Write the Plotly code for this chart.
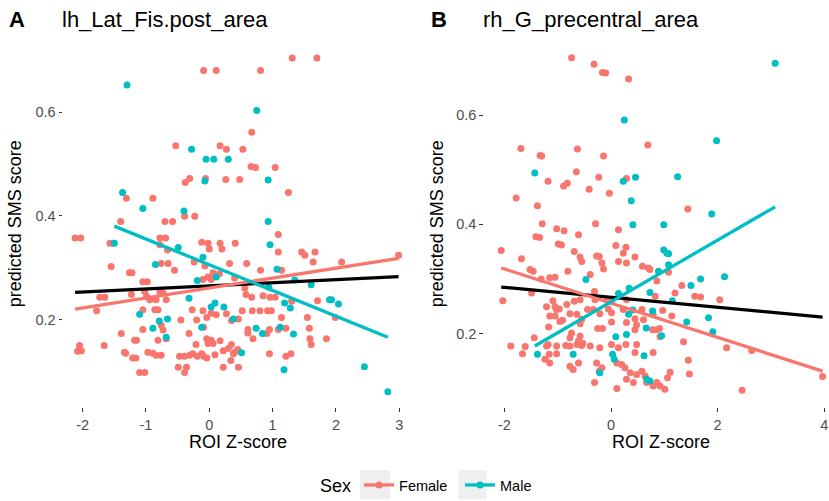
import plotly.graph_objects as go

FEMALE = "#F8766D"
MALE = "#00BFC4"
FONT = "Liberation Sans, Arial, Helvetica, sans-serif"

# ---------------- Panel A: lh_Lat_Fis.post_area ----------------
a_female_x = [-0.09, 0.11, -0.53, 0.17, 0.27, -0.38, -0.31, -0.06, 0.26, 0.48,
              -1.31, -0.89, -0.39, -0.23, -1.40, -0.70, -0.58, -2.12, -2.03, -0.78,
              -0.69, 1.31, 1.70, 0.81, 0.67, 0.53, 0.66, 0.73, 1.04, 1.25,
              1.09, -1.57, -1.52, -0.78, -0.66, -0.12, -0.02, 0.17, 0.41, 0.00,
              0.20, -0.24, -1.55, -0.76, -0.65, -0.55, -0.07, 0.06, -0.02, 0.16,
              -0.10, 0.03, 0.32, 0.40, -1.26, -1.22, -1.05, -0.98, -1.73, -1.65,
              -1.78, -1.23, -1.02, -0.99, -0.78, -0.73, -0.94, -0.84, -0.68, -0.86,
              -0.81, -1.05, -0.27, -0.10, 0.03, -0.04, 0.11, 0.27, 0.46, -0.20,
              -0.76, -0.73, -0.45, -0.09, -1.05, -1.39, -0.32, -0.68, -0.81, -1.18,
              -1.15, -0.04, 0.03, 0.06, -0.02, 0.17, 0.35, 0.45, -0.21, -2.05,
              -2.02, -2.08, -1.66, -1.34, -1.32, -0.97, -0.89, -0.84, -0.76, -1.21,
              -1.16, -0.47, -0.39, -0.31, -0.26, -0.19, -0.12, -0.09, -0.04, 0.09,
              0.22, 0.30, 0.38, 0.40, 0.22, 0.34, 0.46, -0.49, -0.36, -0.39,
              -1.10, -1.02, 1.09, 1.46, 1.51, 1.67, 1.64, 2.09, 2.99, 0.59,
              0.81, 1.14, 0.56, 0.58, 0.67, 0.85, 0.96, 1.04, 1.30, 1.71,
              1.99, 0.52, 0.68, 0.80, 0.92, 0.98, 0.35, 1.14, 1.55, 0.61,
              0.61, 0.91, 0.95, 1.09, 1.21, 1.58, 1.59, 1.61, 1.85, 0.69,
              0.95, 1.21, 1.29]
a_female_y = [0.680, 0.680, 0.535, 0.535, 0.528, 0.464, 0.472, 0.472, 0.470, 0.470,
              0.434, 0.434, 0.399, 0.399, 0.389, 0.389, 0.389, 0.357, 0.357, 0.357,
              0.357, 0.704, 0.704, 0.680, 0.561, 0.528, 0.495, 0.493, 0.493, 0.445,
              0.364, 0.347, 0.347, 0.344, 0.334, 0.349, 0.347, 0.347, 0.347, 0.336,
              0.336, 0.311, 0.302, 0.308, 0.308, 0.295, 0.303, 0.290, 0.282, 0.288,
              0.277, 0.277, 0.308, 0.280, 0.290, 0.290, 0.273, 0.273, 0.243, 0.243,
              0.217, 0.248, 0.254, 0.245, 0.254, 0.251, 0.238, 0.238, 0.238, 0.219,
              0.219, 0.219, 0.219, 0.217, 0.212, 0.204, 0.209, 0.211, 0.201, 0.199,
              0.189, 0.180, 0.199, 0.185, 0.181, 0.173, 0.173, 0.163, 0.160, 0.160,
              0.160, 0.163, 0.160, 0.154, 0.154, 0.159, 0.152, 0.142, 0.152, 0.150,
              0.140, 0.139, 0.150, 0.137, 0.135, 0.137, 0.135, 0.131, 0.131, 0.126,
              0.126, 0.129, 0.129, 0.131, 0.134, 0.129, 0.134, 0.129, 0.126, 0.132,
              0.140, 0.144, 0.134, 0.137, 0.108, 0.121, 0.108, 0.108, 0.108, 0.098,
              0.098, 0.098, 0.330, 0.330, 0.324, 0.330, 0.311, 0.311, 0.324, 0.308,
              0.295, 0.295, 0.261, 0.248, 0.243, 0.246, 0.243, 0.243, 0.235, 0.236,
              0.204, 0.217, 0.217, 0.217, 0.217, 0.217, 0.198, 0.204, 0.204, 0.181,
              0.174, 0.173, 0.181, 0.181, 0.183, 0.183, 0.163, 0.152, 0.163, 0.163,
              0.134, 0.129, 0.134]
a_male_x = [-1.30, -0.28, -0.05, 0.07, 0.30, -0.07, -1.37, -1.05, -0.40, 0.75,
            0.93, 0.93, -1.50, -0.49, -0.10, -0.85, 0.11, -0.19, -0.32, -1.10,
            0.09, 0.23, 0.03, 0.38, -0.79, -0.66, -0.89, -0.12, -0.68, 0.96,
            1.07, 1.35, 1.61, 0.94, 1.19, 1.28, 1.90, 1.93, 2.04, 0.74,
            0.84, 1.12, 1.33, 0.51, 1.18, 2.45, 2.82]
a_male_y = [0.652, 0.528, 0.509, 0.509, 0.509, 0.467, 0.445, 0.414, 0.409, 0.603,
            0.469, 0.389, 0.347, 0.339, 0.320, 0.306, 0.282, 0.275, 0.241, 0.210,
            0.232, 0.224, 0.224, 0.201, 0.197, 0.201, 0.183, 0.185, 0.166, 0.344,
            0.297, 0.276, 0.267, 0.262, 0.232, 0.222, 0.238, 0.238, 0.230, 0.183,
            0.173, 0.185, 0.172, 0.136, 0.103, 0.109, 0.061]
# linear fits (end points)
a_fit_all_x = [-2.12, 2.99]
a_fit_all_y = [0.2524, 0.2825]
a_fit_female_x = [-2.12, 2.99]
a_fit_female_y = [0.2202, 0.318]
a_fit_male_x = [-1.50, 2.82]
a_fit_male_y = [0.380, 0.1658]

# ---------------- Panel B: rh_G_precentral_area ----------------
b_female_x = [-0.74, -0.32, -0.16, -0.10, 0.33, -1.69, -1.33, -1.30, -0.63, -0.14,
              0.69, -0.65, -1.18, -0.89, -0.82, -0.23, 0.29, -0.41, -0.03, -1.78,
              -1.38, -1.29, -1.02, -0.88, -0.61, -0.29, 0.14, -1.41, -1.34, 1.44,
              -0.99, -0.93, -2.06, -1.68, -0.69, -0.58, -0.55, -0.27, -0.22, 0.09,
              0.28, 0.23, 0.45, 0.14, 0.29, -0.17, -0.14, 0.59, 0.70, -1.52,
              -1.46, -0.81, -1.31, -1.15, -1.05, -0.39, -2.03, -1.49, -1.09, -1.21,
              -0.97, -1.02, -1.05, -0.83, -0.69, -0.58, -0.31, -0.30, -0.08, 0.01,
              0.29, -0.44, -0.33, -0.05, -1.15, -1.05, -0.91, -0.77, -0.64, -0.55,
              -0.58, -0.21, 0.01, 0.23, 0.58, 0.45, 0.61, 0.79, -1.17, -0.96,
              -0.25, -0.16, 0.01, 0.29, 0.48, 0.45, 0.86, -0.74, -0.77, -0.58,
              -0.61, -0.53, -1.44, -1.02, -0.85, -0.77, -0.64, -1.18, -1.88, -1.61,
              -1.66, -1.21, -1.16, -1.02, -0.55, -0.39, -0.21, 0.01, 0.14, 0.28,
              0.48, 0.45, 0.79, -1.24, -1.15, -0.77, -0.71, -0.61, -0.27, -0.17,
              -0.22, 0.11, 0.20, 0.26, 0.36, 0.48, 0.58, 0.64, 0.29, 0.42,
              0.67, -0.31, 0.11, 0.79, 0.73, 1.08, 0.86, 1.33, 1.20, 1.57,
              1.68, 2.04, 0.83, 0.97, 1.14, 0.78, 0.91, 0.92, 1.36, 2.17,
              2.64, 1.45, 1.47, 1.11, 1.06, 3.97, 0.86, 0.92, 1.01, 2.46]
b_female_y = [0.705, 0.693, 0.678, 0.677, 0.666, 0.539, 0.526, 0.525, 0.538, 0.525,
              0.545, 0.496, 0.479, 0.470, 0.475, 0.486, 0.484, 0.464, 0.457, 0.448,
              0.434, 0.401, 0.392, 0.388, 0.381, 0.401, 0.390, 0.377, 0.376, 0.428,
              0.364, 0.362, 0.352, 0.337, 0.350, 0.340, 0.332, 0.342, 0.341, 0.361,
              0.358, 0.347, 0.340, 0.332, 0.329, 0.329, 0.318, 0.323, 0.320, 0.317,
              0.314, 0.314, 0.300, 0.302, 0.303, 0.308, 0.260, 0.274, 0.260, 0.249,
              0.245, 0.244, 0.249, 0.253, 0.259, 0.262, 0.277, 0.262, 0.262, 0.259,
              0.262, 0.244, 0.244, 0.245, 0.232, 0.232, 0.224, 0.236, 0.235, 0.226,
              0.218, 0.236, 0.238, 0.244, 0.244, 0.227, 0.225, 0.235, 0.212, 0.222,
              0.209, 0.209, 0.221, 0.220, 0.216, 0.207, 0.207, 0.201, 0.192, 0.195,
              0.186, 0.182, 0.192, 0.177, 0.178, 0.177, 0.180, 0.180, 0.177, 0.176,
              0.163, 0.177, 0.162, 0.163, 0.178, 0.177, 0.174, 0.180, 0.174, 0.180,
              0.180, 0.165, 0.165, 0.153, 0.146, 0.140, 0.134, 0.146, 0.146, 0.137,
              0.131, 0.146, 0.143, 0.137, 0.128, 0.125, 0.131, 0.122, 0.116, 0.110,
              0.110, 0.110, 0.099, 0.104, 0.317, 0.312, 0.296, 0.288, 0.274, 0.268,
              0.267, 0.262, 0.268, 0.242, 0.232, 0.207, 0.209, 0.194, 0.185, 0.174,
              0.169, 0.151, 0.126, 0.129, 0.119, 0.121, 0.110, 0.104, 0.098, 0.096]
b_male_x = [0.25, -1.43, 0.23, 0.46, 0.38, 0.41, 3.08, 1.98, 1.25, 1.89,
            0.99, -0.47, 0.14, 0.34, 0.73, 0.33, 0.41, 0.78, 0.66, 0.29,
            0.09, -1.38, -0.71, 0.03, 0.06, 0.62, -0.21, 0.67, 0.99, 1.05,
            1.08, 1.08, 0.89, 1.50, 1.68, 2.13, 1.15, 1.42, 1.83, 1.91,
            0.95, 0.73]
b_male_y = [0.591, 0.494, 0.479, 0.486, 0.443, 0.399, 0.695, 0.553, 0.487, 0.419,
            0.399, 0.299, 0.273, 0.283, 0.275, 0.235, 0.243, 0.241, 0.210, 0.198,
            0.194, 0.162, 0.162, 0.162, 0.153, 0.159, 0.128, 0.116, 0.353, 0.347,
            0.346, 0.326, 0.314, 0.288, 0.300, 0.304, 0.260, 0.221, 0.229, 0.203,
            0.196, 0.113]
b_fit_all_x = [-2.06, 3.97]
b_fit_all_y = [0.285, 0.230]
b_fit_female_x = [-2.06, 3.97]
b_fit_female_y = [0.320, 0.131]
b_fit_male_x = [-1.43, 3.08]
b_fit_male_y = [0.177, 0.432]

x_ticks_a = [-2, -1, 0, 1, 2, 3]
x_ticks_b = [-2, 0, 2, 4]
y_ticks = [0.2, 0.4, 0.6]
y_tick_text = ["0.2", "0.4", "0.6"]

W, H = 829, 501


def px(x):
    return x / W


def py(y):
    return 1 - y / H


fig = go.Figure()

MS = 7
LW = 3.3

panels = [
    ("x", "y", a_female_x, a_female_y, a_male_x, a_male_y,
     a_fit_all_x, a_fit_all_y, a_fit_female_x, a_fit_female_y, a_fit_male_x, a_fit_male_y),
    ("x2", "y2", b_female_x, b_female_y, b_male_x, b_male_y,
     b_fit_all_x, b_fit_all_y, b_fit_female_x, b_fit_female_y, b_fit_male_x, b_fit_male_y),
]
for (xa, ya, fx, fy, mx, my, ax_, ay_, ffx, ffy, fmx, fmy) in panels:
    fig.add_trace(go.Scatter(x=fx, y=fy, xaxis=xa, yaxis=ya, mode="markers",
                             marker=dict(color=FEMALE, size=MS), showlegend=False))
    fig.add_trace(go.Scatter(x=mx, y=my, xaxis=xa, yaxis=ya, mode="markers",
                             marker=dict(color=MALE, size=MS), showlegend=False))
    fig.add_trace(go.Scatter(x=ax_, y=ay_, xaxis=xa, yaxis=ya, mode="lines",
                             line=dict(color="black", width=LW), showlegend=False))
    fig.add_trace(go.Scatter(x=ffx, y=ffy, xaxis=xa, yaxis=ya, mode="lines",
                             line=dict(color=FEMALE, width=LW), showlegend=False))
    fig.add_trace(go.Scatter(x=fmx, y=fmy, xaxis=xa, yaxis=ya, mode="lines",
                             line=dict(color=MALE, width=LW), showlegend=False))

# legend entries
fig.add_trace(go.Scatter(x=[None], y=[None], mode="lines+markers", name="Female",
                         line=dict(color=FEMALE, width=LW), marker=dict(color=FEMALE, size=MS)))
fig.add_trace(go.Scatter(x=[None], y=[None], mode="lines+markers", name="Male",
                         line=dict(color=MALE, width=LW), marker=dict(color=MALE, size=MS)))

ydom = [py(407.4), py(41.0)]
axis_common = dict(showgrid=False, zeroline=False, showline=False, ticks="outside",
                   ticklen=3.7, tickwidth=1.1, tickcolor="#333333", automargin=False,
                   tickfont=dict(family=FONT, size=14.5, color="#4D4D4D"))

fig.update_layout(
    width=W, height=H,
    margin=dict(l=0, r=0, t=0, b=0, autoexpand=False),
    paper_bgcolor="white", plot_bgcolor="white",
    font=dict(family=FONT, color="black"),
    xaxis=dict(domain=[px(63.3), px(414.8)], range=[-2.306, 3.246],
               tickmode="array", tickvals=x_ticks_a, ticktext=[str(v) for v in x_ticks_a],
               anchor="y", **axis_common),
    yaxis=dict(domain=ydom, range=[0.0306, 0.7369], tickmode="array",
               tickvals=y_ticks, ticktext=y_tick_text, anchor="x", **axis_common),
    xaxis2=dict(domain=[px(484.0), 1.0], range=[-2.383, 4.09],
                tickmode="array", tickvals=x_ticks_b, ticktext=[str(v) for v in x_ticks_b],
                anchor="y2", **axis_common),
    yaxis2=dict(domain=ydom, range=[0.0646, 0.7357], tickmode="array",
                tickvals=y_ticks, ticktext=y_tick_text, anchor="x2", **axis_common),
    legend=dict(orientation="h", x=px(318), xanchor="left", y=py(486), yanchor="middle",
                title=dict(text="Sex", side="left", font=dict(family=FONT, size=18, color="black")),
                font=dict(family=FONT, size=14.5, color="black"),
                bgcolor="rgba(0,0,0,0)", itemwidth=30, traceorder="normal",
                entrywidthmode="pixels", entrywidth=56),
    showlegend=True,
)

# grey legend key backgrounds
for (x0, x1) in [(360, 390), (458.3, 486.7)]:
    fig.add_shape(type="rect", xref="paper", yref="paper",
                  x0=px(x0), x1=px(x1), y0=py(499.3), y1=py(470),
                  fillcolor="#EFEFEF", line=dict(width=0), layer="below")

ann = []
ann.append(dict(text="<b>A</b>", x=px(16.7), y=py(20), xanchor="center", yanchor="middle",
                font=dict(family=FONT, size=22, color="black")))
ann.append(dict(text="lh_Lat_Fis.post_area", x=px(59.5), y=py(20), xanchor="left",
                yanchor="middle", font=dict(family=FONT, size=22, color="black")))
ann.append(dict(text="<b>B</b>", x=px(438.5), y=py(20), xanchor="center", yanchor="middle",
                font=dict(family=FONT, size=22, color="black")))
ann.append(dict(text="rh_G_precentral_area", x=px(480.5), y=py(20), xanchor="left",
                yanchor="middle", font=dict(family=FONT, size=22, color="black")))
ann.append(dict(text="predicted SMS score", x=px(15), y=py(224.2), textangle=-90,
                xanchor="center", yanchor="middle", font=dict(family=FONT, size=18, color="black")))
ann.append(dict(text="predicted SMS score", x=px(437), y=py(224.2), textangle=-90,
                xanchor="center", yanchor="middle", font=dict(family=FONT, size=18, color="black")))
ann.append(dict(text="ROI Z-score", x=px(238), y=py(441.7), xanchor="center", yanchor="middle",
                font=dict(family=FONT, size=18, color="black")))
ann.append(dict(text="ROI Z-score", x=px(661), y=py(441.7), xanchor="center", yanchor="middle",
                font=dict(family=FONT, size=18, color="black")))
for a in ann:
    a.update(xref="paper", yref="paper", showarrow=False)
fig.update_layout(annotations=ann)

fig.write_html("out.html", config={"displayModeBar": False},
               post_script="document.body.style.margin='0';document.body.style.overflow='hidden';")
